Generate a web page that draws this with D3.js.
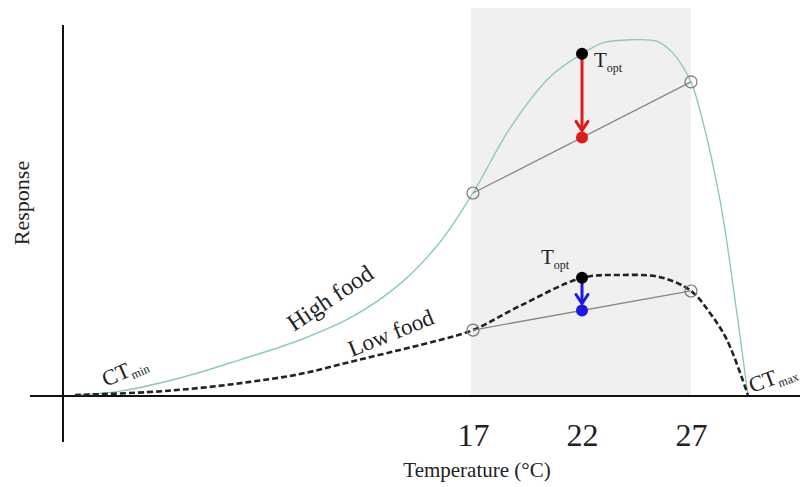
<!DOCTYPE html>
<html>
<head>
<meta charset="utf-8">
<script src="https://cdn.jsdelivr.net/npm/d3@7"></script>
<style>
  body { margin: 0; background: #fff; }
  text { font-family: "Liberation Serif", "DejaVu Serif", serif; fill: #222; }
</style>
</head>
<body>
<div id="chart"></div>
<script>
// temperatures (°C) and relative response
const highTemp = [-1.26, 0.81, 3.56, 6.31, 9.06, 11.36, 13.65, 15.49, 17, 18.7, 20.53, 22, 22.96, 24.06, 25.44, 26.17, 27, 27.28, 28.33, 29.02, 29.61];
const highResp = [0, 0.011, 0.048, 0.099, 0.155, 0.217, 0.313, 0.431, 0.569, 0.752, 0.896, 0.961, 0.992, 1.0, 0.996, 0.963, 0.882, 0.831, 0.549, 0.268, 0];

const lowTemp = [-1.26, 2.05, 4.48, 6.77, 9.06, 11.36, 13.65, 15.49, 17, 19.16, 22, 23.74, 25.58, 27, 27.87, 28.65, 29.61];
const lowResp = [0, 0.008, 0.02, 0.037, 0.059, 0.093, 0.127, 0.155, 0.183, 0.251, 0.33, 0.338, 0.332, 0.293, 0.231, 0.155, 0];

const tickTemps = [17, 22, 27];
const bandTemps = [17, 27];
const toptTemp = 22;

const width = 809, height = 487;

const svg = d3.select('#chart').append('svg')
    .attr('width', width)
    .attr('height', height);

const x = d3.scaleLinear().domain([17, 27]).range([473, 691]);
const y = d3.scaleLinear().domain([0, 1]).range([395, 40]);

// shaded range
svg.append('rect')
    .attr('x', x(bandTemps[0]) - 2)
    .attr('y', 8)
    .attr('width', x(bandTemps[1]) - x(bandTemps[0]) + 2)
    .attr('height', y(0) - 8)
    .attr('fill', '#f0f0f0');

// axes
svg.append('line')
    .attr('x1', 30).attr('x2', 800)
    .attr('y1', 396).attr('y2', 396)
    .attr('stroke', '#111').attr('stroke-width', 2);
svg.append('line')
    .attr('x1', 63).attr('x2', 63)
    .attr('y1', 25).attr('y2', 442)
    .attr('stroke', '#111').attr('stroke-width', 2);

const xAxis = svg.append('g')
    .attr('transform', 'translate(0,420)')
    .call(d3.axisBottom(x).tickValues(tickTemps).tickSize(0).tickFormat(d3.format('d')));
xAxis.select('.domain').remove();
xAxis.selectAll('text')
    .attr('font-size', 32)
    .attr('font-family', '"Liberation Serif", serif')
    .attr('fill', '#222');

svg.append('text')
    .attr('x', 477).attr('y', 477)
    .attr('text-anchor', 'middle')
    .attr('font-size', 21)
    .text('Temperature (°C)');

svg.append('text')
    .attr('transform', 'translate(29,203) rotate(-90)')
    .attr('text-anchor', 'middle')
    .attr('font-size', 22)
    .text('Response');

// curves
const line = d3.line()
    .x((d) => x(d[0]))
    .y((d) => y(d[1]))
    .curve(d3.curveCatmullRom.alpha(0.5));

const highData = highTemp.map((t, i) => [t, highResp[i]]);
const lowData = lowTemp.map((t, i) => [t, lowResp[i]]);

svg.append('path')
    .attr('d', line(highData))
    .attr('fill', 'none')
    .attr('stroke', '#8ccabb')
    .attr('stroke-width', 1.4);

svg.append('path')
    .attr('d', line(lowData))
    .attr('fill', 'none')
    .attr('stroke', '#222')
    .attr('stroke-width', 2.6)
    .attr('stroke-dasharray', '6,3');

function respAt(temps, resps, t) {
    return resps[temps.indexOf(t)];
}

function drawChord(temps, resps, arrowColor, toptLabel) {
    const r0 = respAt(temps, resps, bandTemps[0]);
    const r1 = respAt(temps, resps, bandTemps[1]);
    const rMid = r0 + (r1 - r0) * (toptTemp - bandTemps[0]) / (bandTemps[1] - bandTemps[0]);
    const rTop = respAt(temps, resps, toptTemp);

    svg.append('line')
        .attr('x1', x(bandTemps[0])).attr('y1', y(r0))
        .attr('x2', x(bandTemps[1])).attr('y2', y(r1))
        .attr('stroke', '#888').attr('stroke-width', 1.3);

    bandTemps.forEach((t, i) => {
        svg.append('circle')
            .attr('cx', x(t)).attr('cy', y(i === 0 ? r0 : r1))
            .attr('r', 6)
            .attr('fill', 'none')
            .attr('stroke', '#777')
            .attr('stroke-width', 1.2);
    });

    // arrow from Topt down to the chord
    const ax = x(toptTemp);
    const yTop = y(rTop), yEnd = y(rMid) - 7;
    svg.append('line')
        .attr('x1', ax).attr('x2', ax)
        .attr('y1', yTop).attr('y2', yEnd)
        .attr('stroke', arrowColor).attr('stroke-width', 3);
    svg.append('path')
        .attr('d', `M${ax - 6},${yEnd - 9} L${ax},${yEnd} L${ax + 6},${yEnd - 9}`)
        .attr('fill', 'none')
        .attr('stroke', arrowColor).attr('stroke-width', 3)
        .attr('stroke-linecap', 'round');

    svg.append('circle')
        .attr('cx', ax).attr('cy', y(rMid)).attr('r', 6)
        .attr('fill', arrowColor);
    svg.append('circle')
        .attr('cx', ax).attr('cy', yTop).attr('r', 6)
        .attr('fill', '#000');

    const lbl = svg.append('text')
        .attr('x', toptLabel[0]).attr('y', toptLabel[1])
        .attr('font-size', 21);
    lbl.append('tspan').text('T');
    lbl.append('tspan').attr('font-size', 12).attr('dy', 5).text('opt');
}

drawChord(highTemp, highResp, '#e01a1a', [594, 67]);
drawChord(lowTemp, lowResp, '#1a1ae6', [541, 264]);

// curve labels
function label(txt, sub, px, py, angle, size) {
    const t = svg.append('text')
        .attr('transform', `translate(${px},${py}) rotate(${angle})`)
        .attr('font-size', size);
    t.append('tspan').text(txt);
    if (sub) {
        t.append('tspan').attr('font-size', size * 0.55).attr('dy', 4).text(sub);
    }
}

label('High food', null, 294, 332, -34, 24);
label('Low food', null, 352, 357, -22, 23);
label('CT', 'min', 106, 387, -24, 22);
label('CT', 'max', 752, 393, -20, 22);
</script>
</body>
</html>
